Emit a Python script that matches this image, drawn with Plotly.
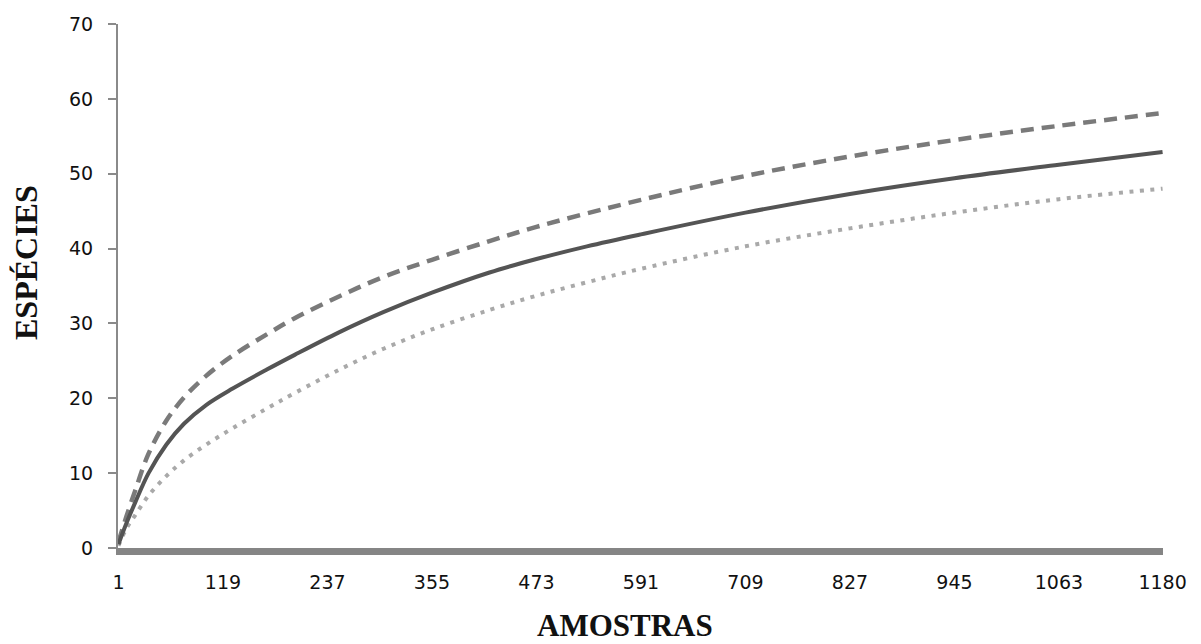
import plotly.graph_objects as go

# sample positions (AMOSTRAS) at which values were read
amostras = [1, 10, 20, 35, 55, 75, 100, 130, 168, 200, 250, 300, 355, 420, 473, 530,
            591, 709, 827, 945, 1063, 1180]
# species accumulation (mean), upper and lower bounds
especies_media = [0.5, 3.3, 6.1, 10.0, 13.8, 16.6, 19.1, 21.3, 23.8, 25.8, 28.8, 31.5, 34.1,
                  36.8, 38.6, 40.3, 41.9, 44.8, 47.3, 49.4, 51.2, 52.9]
especies_sup = [0.8, 4.2, 7.7, 12.6, 17.0, 20.1, 23.0, 25.7, 28.5, 30.7, 33.6, 36.2, 38.5,
                41.0, 42.9, 44.7, 46.5, 49.7, 52.3, 54.5, 56.4, 58.1]
especies_inf = [0.3, 2.6, 4.4, 7.0, 9.6, 11.7, 13.8, 16.0, 18.6, 20.7, 23.8, 26.6, 29.2,
                31.8, 33.7, 35.5, 37.3, 40.3, 42.7, 44.8, 46.6, 48.0]

x_ticks = [1, 119, 237, 355, 473, 591, 709, 827, 945, 1063, 1180]
y_ticks = [0, 10, 20, 30, 40, 50, 60, 70]

fig = go.Figure()
fig.add_trace(go.Scatter(x=amostras, y=especies_inf, mode="lines",
                         line=dict(color="#a9a9a9", width=4, dash="4px,6.5px", shape="spline", smoothing=1)))
fig.add_trace(go.Scatter(x=amostras, y=especies_sup, mode="lines",
                         line=dict(color="#7a7a7a", width=4.5, dash="13px,8px", shape="spline", smoothing=1)))
fig.add_trace(go.Scatter(x=amostras, y=especies_media, mode="lines",
                         line=dict(color="#545454", width=4, shape="spline", smoothing=1)))

tick_font = dict(family="DejaVu Sans", size=19, color="#111111")

fig.update_layout(
    width=1201, height=644,
    margin=dict(l=118, r=38, t=24, b=96),
    paper_bgcolor="white", plot_bgcolor="white",
    showlegend=False,
    xaxis=dict(range=[0.5, 1180.5], tickmode="array", tickvals=x_ticks,
               ticktext=[str(v) for v in x_ticks], showgrid=False, zeroline=False,
               showline=True, linewidth=7, linecolor="#858585", ticks="",
               tickfont=tick_font, ticklabelstandoff=11),
    yaxis=dict(range=[0, 70], tickmode="array", tickvals=y_ticks,
               showgrid=False, zeroline=False, showline=True, linewidth=2,
               linecolor="#8a8a8a", ticks="outside", ticklen=8, tickwidth=2,
               tickcolor="#8a8a8a", tickfont=tick_font, ticklabelstandoff=11),
    annotations=[
        dict(text="<b>ESPÉCIES</b>", xref="paper", yref="paper",
             x=(26 - 118) / 1045, y=(548 - 263) / 524, xanchor="center", yanchor="middle",
             textangle=-90, showarrow=False, borderpad=0,
             font=dict(family="Liberation Serif", size=32, color="#111111")),
        dict(text="<b>AMOSTRAS</b>", xref="paper", yref="paper",
             x=(625 - 118) / 1045, y=(548 - 644) / 524, xanchor="center", yanchor="bottom",
             showarrow=False, borderpad=0,
             font=dict(family="Liberation Serif", size=31, color="#111111")),
    ],
)

fig.write_html("out.html")
